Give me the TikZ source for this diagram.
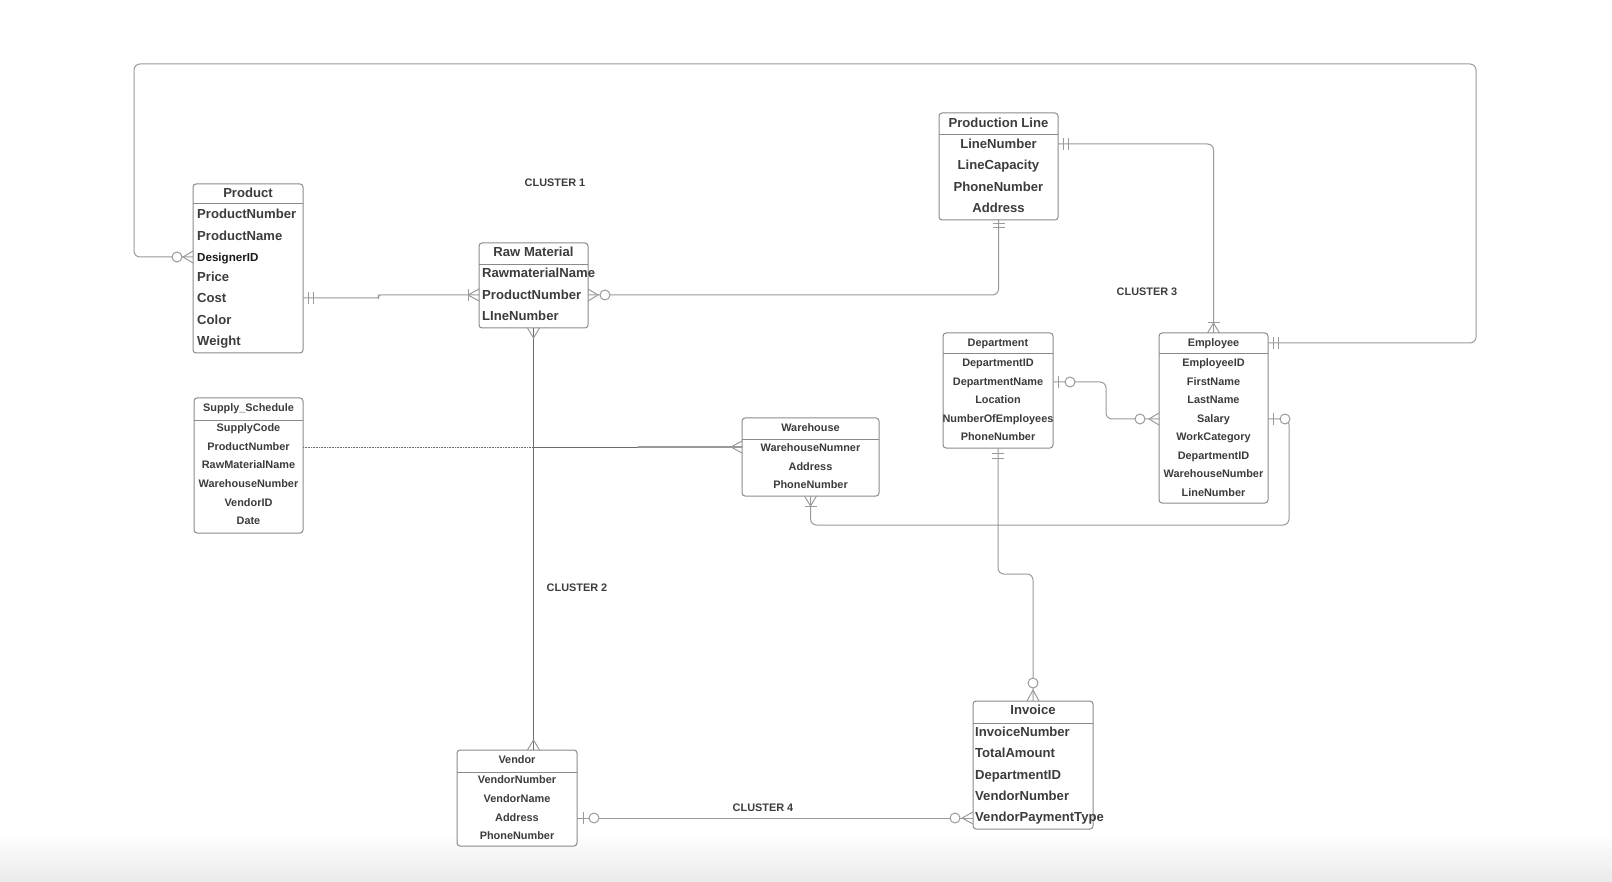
\documentclass[tikz,border=0pt]{standalone}
\usepackage{fontspec}
\setmainfont{Liberation Sans}
\usetikzlibrary{calc}
\definecolor{bord}{HTML}{8A8A8A}
\definecolor{lnc}{HTML}{9A9A9A}
\definecolor{txt}{HTML}{3C3C3C}
\definecolor{dark}{HTML}{6A6A6A}
\begin{document}
\begin{tikzpicture}[x=1pt,y=-1pt,
  ebox/.style={draw=bord, line width=1pt, rounded corners=3pt, fill=white, inner sep=0pt, outer sep=0pt, anchor=north west},
  divl/.style={draw=bord, line width=0.9pt},
  big/.style={font=\fontsize{13.1}{15}\selectfont\bfseries, text=txt, inner sep=0pt, text height=9.4pt, text depth=0pt},
  small/.style={font=\fontsize{10.9}{13}\selectfont\bfseries, text=txt, inner sep=0pt, text height=7.8pt, text depth=0pt},
  lbl/.style={font=\fontsize{10.9}{13}\selectfont\bfseries, text=txt, inner sep=0pt, text height=7.8pt, text depth=0pt},
  rowl/.style={anchor=west},
  conn/.style={draw=lnc, line width=1pt, rounded corners=6pt},
  mk/.style={draw=lnc, line width=1pt},
  pics/crowfoot/.style={code={\draw[mk] (10,0) -- (0,6) (10,0) -- (0,-6);}},
  pics/crowlong/.style={code={\draw[mk] (11,0) -- (0,6) (11,0) -- (0,-6);}},
  pics/bar/.style={code={\draw[mk] (#1,-6) -- (#1,6);}},
  pics/ring/.style={code={\draw[mk,fill=white] (#1,0) circle[radius=5pt];}}
]
\useasboundingbox (0,0) rectangle (1612,882);
\shade[top color=white, bottom color=black!8] (0,832) rectangle (1612,882);

% ---------------- entities ----------------
% Product
\node[ebox, minimum width=110pt, minimum height=169pt] (product) at (193,184) {};
\draw[divl] ($(product.north west)+(0,19)$) -- ($(product.north east)+(0,19)$);
\node[big] (phead) at (248,193) {Product};
\node[big,rowl] (p1) at (197,214) {ProductNumber};
\node[big,rowl] (p2) at (197,236) {ProductName};
\node[big,rowl,font=\fontsize{11.6}{14}\selectfont\bfseries,text=black!90] (p3) at (197,257) {DesignerID};
\node[big,rowl] (p4) at (197,277) {Price};
\node[big,rowl] (p5) at (197,298) {Cost};
\node[big,rowl] (p6) at (197,320) {Color};
\node[big,rowl] (p7) at (197,341) {Weight};

% Raw Material
\node[ebox, minimum width=109pt, minimum height=85pt] (rawmat) at (479,243) {};
\draw[divl] ($(rawmat.north west)+(0,21)$) -- ($(rawmat.north east)+(0,21)$);
\node[big] (rhead) at (533.5,252) {Raw Material};
\node[big,rowl] (r1) at (482,273) {RawmaterialName};
\node[big,rowl] (r2) at (482,295) {ProductNumber};
\node[big,rowl] (r3) at (482,316) {LIneNumber};

% Production Line
\node[ebox, minimum width=119pt, minimum height=107pt] (prodline) at (939,113) {};
\draw[divl] ($(prodline.north west)+(0,21)$) -- ($(prodline.north east)+(0,21)$);
\node[big] (lhead) at (998.5,123) {Production Line};
\node[big] (l1) at (998.5,144) {LineNumber};
\node[big] (l2) at (998.5,165) {LineCapacity};
\node[big] (l3) at (998.5,187) {PhoneNumber};
\node[big] (l4) at (998.5,208) {Address};

% Supply_Schedule
\node[ebox, minimum width=109pt, minimum height=135pt] (supply) at (194,398) {};
\draw[divl] ($(supply.north west)+(0,22)$) -- ($(supply.north east)+(0,22)$);
\node[small] (shead) at (248.5,408) {Supply\_Schedule};
\node[small] (s1) at (248.5,428) {SupplyCode};
\node[small] (s2) at (248.5,447) {ProductNumber};
\node[small] (s3) at (248.5,465) {RawMaterialName};
\node[small] (s4) at (248.5,484) {WarehouseNumber};
\node[small] (s5) at (248.5,503) {VendorID};
\node[small] (s6) at (248.5,521) {Date};

% Warehouse
\node[ebox, minimum width=137pt, minimum height=78pt] (warehouse) at (742,418) {};
\draw[divl] ($(warehouse.north west)+(0,21)$) -- ($(warehouse.north east)+(0,21)$);
\node[small] (whead) at (810.5,428) {Warehouse};
\node[small] (w1) at (810.5,448) {WarehouseNumner};
\node[small] (w2) at (810.5,467) {Address};
\node[small] (w3) at (810.5,485) {PhoneNumber};

% Department
\node[ebox, minimum width=110pt, minimum height=115pt] (department) at (943,333) {};
\draw[divl] ($(department.north west)+(0,20)$) -- ($(department.north east)+(0,20)$);
\node[small] (dhead) at (998,343) {Department};
\node[small] (d1) at (998,363) {DepartmentID};
\node[small] (d2) at (998,382) {DepartmentName};
\node[small] (d3) at (998,400) {Location};
\node[small] (d4) at (998,419) {NumberOfEmployees};
\node[small] (d5) at (998,437) {PhoneNumber};

% Employee
\node[ebox, minimum width=109pt, minimum height=170pt] (employee) at (1159,333) {};
\draw[divl] ($(employee.north west)+(0,20)$) -- ($(employee.north east)+(0,20)$);
\node[small] (ehead) at (1213.5,343) {Employee};
\node[small] (e1) at (1213.5,363) {EmployeeID};
\node[small] (e2) at (1213.5,382) {FirstName};
\node[small] (e3) at (1213.5,400) {LastName};
\node[small] (e4) at (1213.5,419) {Salary};
\node[small] (e5) at (1213.5,437) {WorkCategory};
\node[small] (e6) at (1213.5,456) {DepartmentID};
\node[small] (e7) at (1213.5,474) {WarehouseNumber};
\node[small] (e8) at (1213.5,493) {LineNumber};

% Vendor
\node[ebox, minimum width=120pt, minimum height=96pt] (vendor) at (457,750) {};
\draw[divl] ($(vendor.north west)+(0,22)$) -- ($(vendor.north east)+(0,22)$);
\node[small] (vhead) at (517,760) {Vendor};
\node[small] (v1) at (517,780) {VendorNumber};
\node[small] (v2) at (517,799) {VendorName};
\node[small] (v3) at (517,818) {Address};
\node[small] (v4) at (517,836) {PhoneNumber};

% Invoice
\node[ebox, minimum width=120pt, minimum height=128pt] (invoice) at (973,701) {};
\draw[divl] ($(invoice.north west)+(0,22)$) -- ($(invoice.north east)+(0,22)$);
\node[big] (ihead) at (1033,710) {Invoice};
\node[big,rowl] (i1) at (975,732) {InvoiceNumber};
\node[big,rowl] (i2) at (975,753) {TotalAmount};
\node[big,rowl] (i3) at (975,775) {DepartmentID};
\node[big,rowl] (i4) at (975,796) {VendorNumber};
\node[big,rowl] (i5) at (975,817) {VendorPaymentType};

% cluster labels
\node[lbl] (c1) at (555,183) {CLUSTER 1};
\node[lbl] (c2) at (577,588) {CLUSTER 2};
\node[lbl] (c3) at (1147,292) {CLUSTER 3};
\node[lbl] (c4) at (763,808) {CLUSTER 4};

% ---------------- helper coordinates ----------------
\coordinate (topR) at (1476,64);
\coordinate (topL) at (134,64);
\coordinate (whR) at (1289,525);
\coordinate (djog) at (1015,574);

% ---------------- connectors ----------------
% Product -- Raw Material
\draw[conn, rounded corners=2pt] (product.east |- p5) -| ($(product.east |- p5)!0.43!(rawmat.west |- r2)$) |- (rawmat.west |- r2);
% Raw Material -- Production Line
\draw[conn] (rawmat.east |- r2) -| (prodline.south);
% Production Line -- Employee
\draw[conn] (prodline.east |- l1) -| (employee.north);
% Employee -- Product (outer loop)
\draw[conn] (employee.east |- ehead) -| (topR) -- (topL) |- (product.west |- p3);
% Department -- Employee
\draw[conn] (department.east |- d2) -| ($(department.east |- d2)!0.5!(employee.west |- e4)$) |- (employee.west |- e4);
% Employee -- Warehouse
\draw[conn] (employee.east |- e4) -| (whR) -| (warehouse.south);
% Supply_Schedule -- Warehouse
\draw[draw=dark, line width=1pt, dash pattern=on 1pt off 0.6pt] (supply.east |- s2) -- (rawmat.south |- s2);
\draw[draw=dark, line width=1pt] (rawmat.south |- s2) -- ($(rawmat.south |- s2)!0.5!(warehouse.west |- s2)$);
\draw[draw=lnc, line width=1.4pt] ($(rawmat.south |- s2)!0.5!(warehouse.west |- s2)$) -- (warehouse.west |- s2);
% Raw Material -- Vendor
\draw[draw=dark, line width=1.2pt] (rawmat.south) -- (rawmat.south |- vendor.north);
% Department -- Invoice
\draw[conn] (department.south) |- (djog) -| (invoice.north);
% Vendor -- Invoice
\draw[conn] (vendor.east |- v3) -- (invoice.west |- v3);

% ---------------- cardinality marks ----------------
\pic at (product.east |- p5) {bar=5};
\pic at (product.east |- p5) {bar=10};
\pic[rotate=180] at (rawmat.west |- r2) {crowlong};
\pic[rotate=180] at (rawmat.west |- r2) {bar=11};
\pic at (rawmat.east |- r2) {crowfoot};
\pic at (rawmat.east |- r2) {ring=17};
\pic[rotate=-90] at (prodline.south) {bar=4};
\pic[rotate=-90] at (prodline.south) {bar=8};
\pic at (prodline.east |- l1) {bar=5};
\pic at (prodline.east |- l1) {bar=10};
\pic[rotate=90] at (employee.north) {crowfoot};
\pic[rotate=90] at (employee.north) {bar=10};
\pic at (employee.east |- ehead) {bar=5};
\pic at (employee.east |- ehead) {bar=10};
\pic[rotate=180] at (product.west |- p3) {crowfoot};
\pic[rotate=180] at (product.west |- p3) {ring=16};
\pic at (department.east |- d2) {bar=5};
\pic at (department.east |- d2) {ring=17};
\pic[rotate=180] at (employee.west |- e4) {crowfoot};
\pic[rotate=180] at (employee.west |- e4) {ring=19};
\pic at (employee.east |- e4) {bar=5};
\pic at (employee.east |- e4) {ring=17};
\pic[rotate=-90] at (warehouse.south) {crowfoot};
\pic[rotate=-90] at (warehouse.south) {bar=10};
\pic[rotate=180] at (warehouse.west |- s2) {crowlong};
\pic[rotate=-90] at (rawmat.south) {crowfoot};
\pic[rotate=90] at (rawmat.south |- vendor.north) {crowfoot};
\pic[rotate=-90] at (department.south) {bar=5};
\pic[rotate=-90] at (department.south) {bar=10};
\pic[rotate=90] at (invoice.north) {crowlong};
\pic[rotate=90] at (invoice.north) {ring=18};
\pic at (vendor.east |- v3) {bar=6};
\pic at (vendor.east |- v3) {ring=17};
\pic[rotate=180] at (invoice.west |- v3) {crowlong};
\pic[rotate=180] at (invoice.west |- v3) {ring=18};
\end{tikzpicture}
\end{document}
